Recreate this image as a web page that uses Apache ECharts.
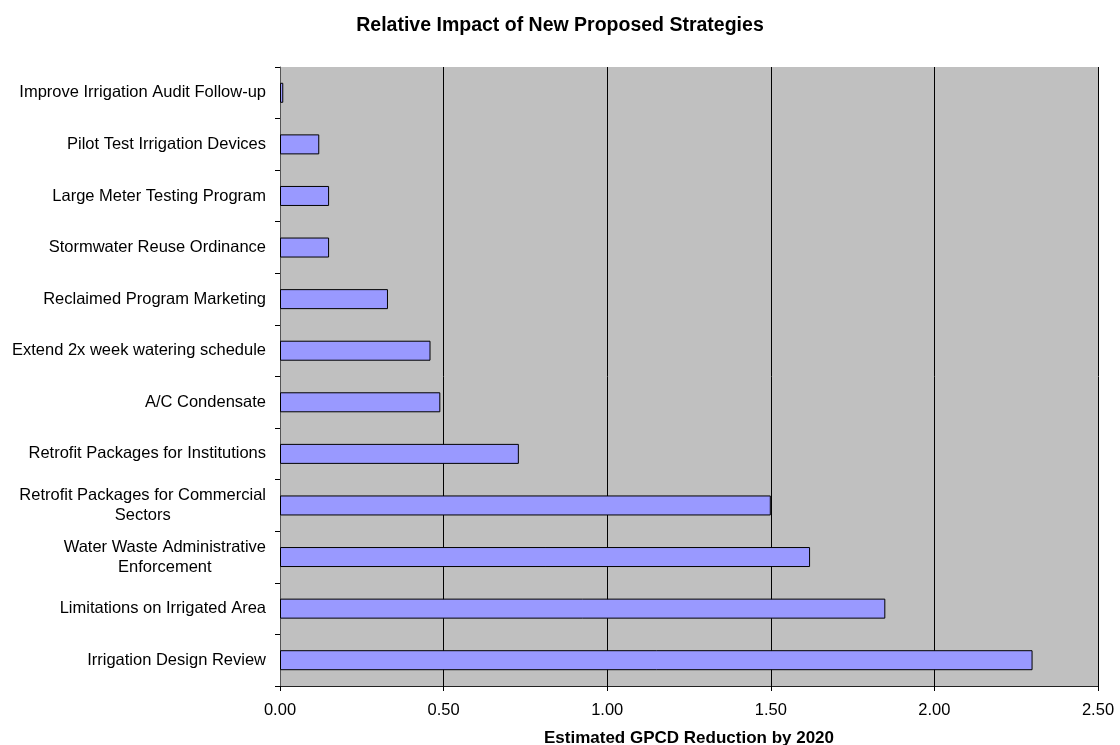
<!DOCTYPE html>
<html>
<head>
<meta charset="utf-8">
<title>Relative Impact of New Proposed Strategies</title>
<script src="https://cdn.jsdelivr.net/npm/echarts@6/dist/echarts.min.js"></script>
<style>
  html, body { margin: 0; padding: 0; background: #ffffff; }
  #chart { width: 1120px; height: 745px; }
</style>
</head>
<body>
<div id="chart"></div>
<script>
// Strategies, listed top to bottom
const strategies = [
  'Improve Irrigation Audit Follow-up',
  'Pilot Test Irrigation Devices',
  'Large Meter Testing Program',
  'Stormwater Reuse Ordinance',
  'Reclaimed Program Marketing',
  'Extend 2x week watering schedule',
  'A/C Condensate',
  'Retrofit Packages for Institutions',
  'Retrofit Packages for Commercial\nSectors',
  'Water Waste Administrative\nEnforcement',
  'Limitations on Irrigated Area',
  'Irrigation Design Review'
];

// Estimated GPCD reduction by 2020 for each strategy
const gpcdReduction = [0.01, 0.12, 0.15, 0.15, 0.33, 0.46, 0.49, 0.73, 1.50, 1.62, 1.85, 2.30];

// Value-axis ticks
const xTicks = { min: 0, max: 2.5, step: 0.5 };

const FONT = '"Liberation Sans", Arial, sans-serif';

const chart = echarts.init(document.getElementById('chart'), null, { renderer: 'canvas' });

chart.setOption({
  backgroundColor: '#ffffff',
  animation: false,
  title: {
    text: 'Relative Impact of New Proposed Strategies',
    left: 'center',
    top: 11,
    textStyle: { fontFamily: FONT, fontSize: 19.5, fontWeight: 'bold', color: '#000' }
  },
  grid: {
    left: 280,
    right: 22,
    top: 67,
    bottom: 59,
    outerBoundsMode: 'none',
    containLabel: false,
    show: true,
    backgroundColor: '#C0C0C0',
    borderWidth: 0
  },
  xAxis: {
    type: 'value',
    min: xTicks.min,
    max: xTicks.max,
    interval: xTicks.step,
    name: 'Estimated GPCD Reduction by 2020',
    nameLocation: 'middle',
    nameGap: 44,
    nameTextStyle: { fontFamily: FONT, fontSize: 17, fontWeight: 'bold', color: '#000' },
    axisLine: { show: true, lineStyle: { color: '#222', width: 1 } },
    axisTick: { show: true, length: 5, lineStyle: { color: '#000' } },
    axisLabel: {
      fontFamily: FONT, fontSize: 16.5, color: '#000', margin: 16,
      formatter: v => v.toFixed(2)
    },
    splitLine: { show: true, lineStyle: { color: '#000', width: 1 } }
  },
  yAxis: {
    type: 'category',
    inverse: true,
    data: strategies,
    axisLine: { show: true, lineStyle: { color: '#555', width: 1 } },
    axisTick: { show: true, length: 5, alignWithLabel: false, lineStyle: { color: '#000' } },
    axisLabel: {
      margin: 14,
      fontFamily: FONT,
      fontSize: 16.5,
      color: '#000',
      formatter: v => v.split('\n').map(line => '{c|' + line + '}').join('\n'),
      rich: {
        c: { fontFamily: FONT, fontSize: 16.5, color: '#000', align: 'center', lineHeight: 20 }
      }
    },
    splitLine: { show: false }
  },
  series: [{
    type: 'bar',
    data: gpcdReduction,
    barWidth: 20,
    itemStyle: { color: '#9999FF', borderColor: '#000', borderWidth: 1 }
  }]
});
</script>
</body>
</html>
